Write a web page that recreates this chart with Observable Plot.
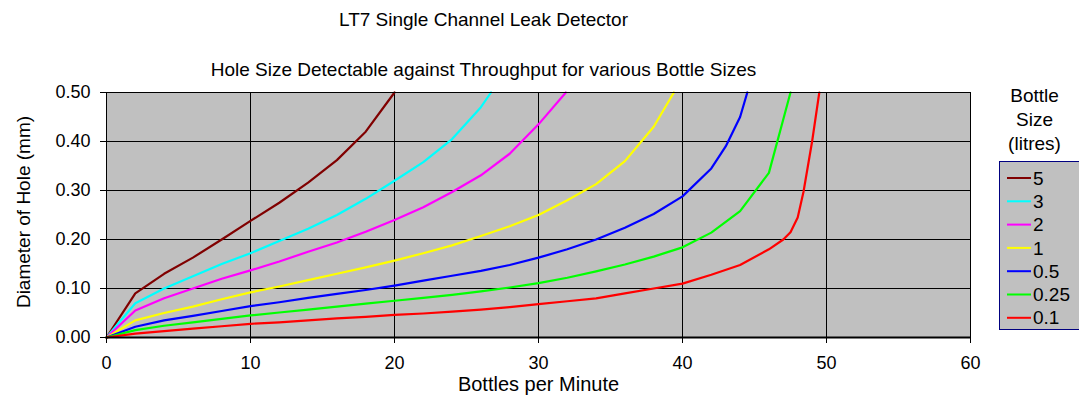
<!DOCTYPE html>
<html>
<head>
<meta charset="utf-8">
<script src="https://cdn.jsdelivr.net/npm/d3@7"></script>
<script src="https://cdn.jsdelivr.net/npm/@observablehq/plot@0.6"></script>
<style>
  html, body { margin: 0; padding: 0; background: #fff; }
  body { width: 1079px; height: 401px; position: relative; overflow: hidden; font-family: "Liberation Sans", Arial, sans-serif; }
  .t { position: absolute; white-space: nowrap; color: #000; font-size: 19px; line-height: 22px; }
  #legend { position: absolute; left: 999px; top: 161px; width: 90px; height: 169px; border: 1px solid #000080; background: #c0c0c0; box-sizing: border-box; }
</style>
</head>
<body>
<div id="chart"></div>
<div class="t" id="title" style="left:0;width:967px;text-align:center;top:9px;">LT7 Single Channel Leak Detector</div>
<div class="t" id="subtitle" style="left:0;width:967px;text-align:center;top:59px;">Hole Size Detectable against Throughput for various Bottle Sizes</div>
<div class="t" style="left:990px;width:89px;text-align:center;top:84px;line-height:24px;">Bottle<br>Size<br>(litres)</div>
<div id="legend"></div>
<script>
const seriesNames = ["5", "3", "2", "1", "0.5", "0.25", "0.1"];
const seriesColors = ["#800000", "#00ffff", "#ff00ff", "#ffff00", "#0000ff", "#00ff00", "#ff0000"];

const x5 = [0, 2, 4, 6, 8, 10, 12, 14, 16, 18, 20];
const y5 = [0, 0.09, 0.13, 0.163, 0.2, 0.238, 0.275, 0.316, 0.362, 0.42, 0.50];

const x3 = [0, 2, 4, 6, 8, 10, 12, 14, 16, 18, 20, 22, 24, 26, 26.7];
const y3 = [0, 0.07, 0.1, 0.125, 0.15, 0.172, 0.197, 0.222, 0.25, 0.283, 0.32, 0.358, 0.405, 0.47, 0.50];

const x2 = [0, 2, 4, 6, 8, 10, 12, 14, 16, 18, 20, 22, 24, 26, 28, 30, 31.9];
const y2 = [0, 0.055, 0.08, 0.1, 0.12, 0.137, 0.155, 0.175, 0.194, 0.216, 0.24, 0.266, 0.297, 0.331, 0.375, 0.435, 0.50];

const x1 = [0, 2, 4, 6, 8, 10, 12, 14, 16, 18, 20, 22, 24, 26, 28, 30, 32, 34, 36, 38, 39.4];
const y1 = [0, 0.035, 0.05, 0.063, 0.078, 0.092, 0.104, 0.117, 0.13, 0.143, 0.157, 0.172, 0.188, 0.207, 0.227, 0.25, 0.28, 0.313, 0.36, 0.43, 0.50];

const x05 = [0, 2, 4, 6, 8, 10, 12, 14, 16, 18, 20, 22, 24, 26, 28, 30, 32, 34, 36, 38, 40, 42, 43, 44, 44.5];
const y05 = [0, 0.022, 0.035, 0.044, 0.054, 0.064, 0.072, 0.081, 0.089, 0.097, 0.106, 0.116, 0.126, 0.136, 0.148, 0.163, 0.18, 0.2, 0.224, 0.252, 0.288, 0.345, 0.39, 0.45, 0.50];

const x025 = [0, 2, 4, 6, 8, 10, 12, 14, 16, 18, 20, 22, 24, 26, 28, 30, 32, 34, 36, 38, 40, 42, 44, 46, 47.5];
const y025 = [0, 0.015, 0.024, 0.031, 0.038, 0.045, 0.051, 0.057, 0.063, 0.069, 0.075, 0.081, 0.087, 0.094, 0.102, 0.111, 0.122, 0.135, 0.149, 0.165, 0.184, 0.214, 0.258, 0.336, 0.50];

const x01 = [0, 2, 4, 6, 8, 10, 12, 14, 16, 18, 20, 22, 24, 26, 28, 30, 32, 34, 36, 38, 40, 42, 44, 46, 47, 47.5, 48, 48.4, 49, 49.5];
const y01 = [0, 0.008, 0.013, 0.018, 0.023, 0.028, 0.031, 0.035, 0.039, 0.042, 0.046, 0.049, 0.053, 0.057, 0.062, 0.068, 0.074, 0.08, 0.09, 0.1, 0.11, 0.128, 0.148, 0.18, 0.2, 0.215, 0.245, 0.297, 0.4, 0.50];

const xTicks = [0, 10, 20, 30, 40, 50, 60];
const yTicks = [0, 0.1, 0.2, 0.3, 0.4, 0.5];

const xs = [x5, x3, x2, x1, x05, x025, x01];
const ys = [y5, y3, y2, y1, y05, y025, y01];
const data = [];
seriesNames.forEach((name, i) => {
  xs[i].forEach((xv, j) => data.push({series: name, x: xv, y: ys[i][j]}));
});

const font = '"Liberation Sans", Arial, sans-serif';
const chart = Plot.plot({
  width: 1079,
  height: 401,
  marginLeft: 106,
  marginRight: 109,
  marginTop: 92,
  marginBottom: 64,
  style: {fontFamily: font, fontSize: "18px", color: "#000", background: "transparent", overflow: "visible"},
  x: {domain: [0, 60], ticks: xTicks},
  y: {domain: [0, 0.5], ticks: yTicks},
  color: {domain: seriesNames, range: seriesColors},
  marks: [
    Plot.frame({fill: "#c0c0c0"}),
    Plot.gridX(xTicks, {stroke: "#000", strokeOpacity: 1, strokeWidth: 1}),
    Plot.gridY(yTicks, {stroke: "#000", strokeOpacity: 1, strokeWidth: 1}),
    Plot.line(data, {x: "x", y: "y", z: "series", stroke: "series", strokeWidth: 2.2, curve: "linear"}),
    Plot.frame({stroke: "#000", strokeWidth: 1}),
    Plot.ruleY([0], {stroke: "#000", strokeWidth: 2}),
    Plot.axisX(xTicks, {tickSize: 6, tickPadding: 13, tickFormat: d => String(d), label: null, fontSize: 18}),
    Plot.axisY(yTicks, {tickSize: 6, tickPadding: 10, tickFormat: d => d.toFixed(2), label: null, fontSize: 18}),
    Plot.text(["Bottles per Minute"], {frameAnchor: "bottom", dy: 53, fontSize: 20, textAnchor: "middle"}),
    Plot.text(["Diameter of Hole (mm)"], {frameAnchor: "left", dx: -83, dy: -3, rotate: -90, fontSize: 19, textAnchor: "middle"})
  ]
});
document.getElementById("chart").appendChild(chart);

const legend = d3.select("#legend").append("svg").attr("width", 90).attr("height", 169).style("display", "block");
seriesNames.forEach((name, i) => {
  const yy = 16 + i * 23.3;
  legend.append("line").attr("x1", 7).attr("x2", 31).attr("y1", yy).attr("y2", yy)
    .attr("stroke", seriesColors[i]).attr("stroke-width", 2);
  legend.append("text").attr("x", 33).attr("y", yy).attr("dy", "0.35em")
    .attr("font-family", font).attr("font-size", 19).text(name);
});
</script>
</body>
</html>
